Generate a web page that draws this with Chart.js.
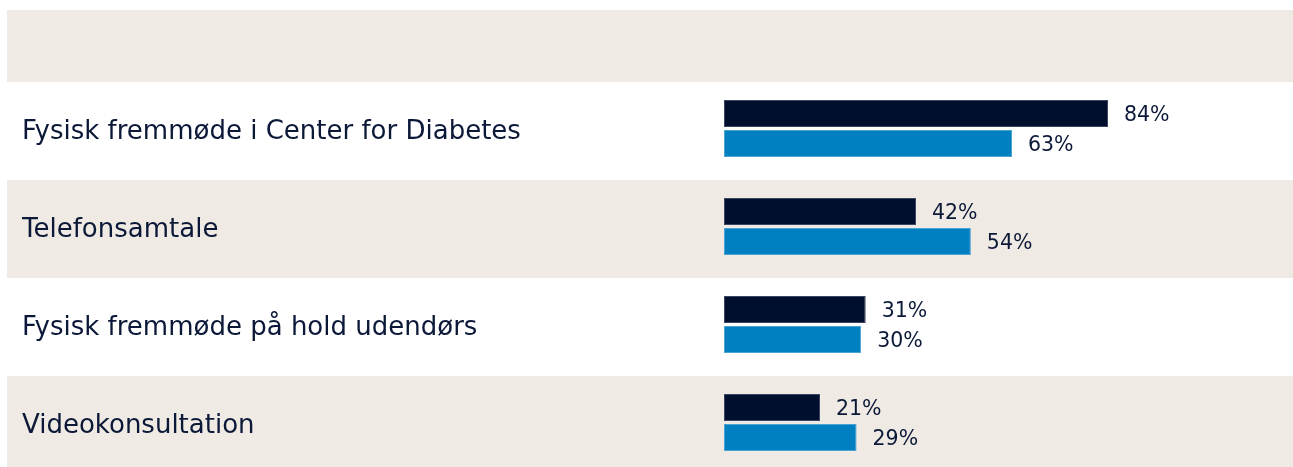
<!DOCTYPE html>
<html>
<head>
<meta charset="utf-8">
<script src="https://cdn.jsdelivr.net/npm/chart.js@4/dist/chart.umd.min.js"></script>
<style>
html,body{margin:0;padding:0;background:#ffffff;overflow:hidden;}
#wrap{position:relative;width:1293px;height:487px;}
</style>
</head>
<body>
<div id="wrap"><canvas id="c" width="1293" height="487"></canvas></div>
<script>
const categories = [
  "Fysisk fremmøde i Center for Diabetes",
  "Telefonsamtale",
  "Fysisk fremmøde på hold udendørs",
  "Videokonsultation"
];
const seriesA = [84, 42, 31, 21];
const seriesB = [63, 54, 30, 29];
const seriesNames = ["Serie 1", "Serie 2"];

const BEIGE = "#EFEAE3";
const TEXT = "#0B1838";
const LABEL_FONT = "DejaVu Sans";

const bandsPlugin = {
  id: "bands",
  beforeDraw(chart) {
    const ctx = chart.ctx;
    const y = chart.scales.y;
    const step = y.getPixelForValue(1) - y.getPixelForValue(0);
    const shift = 2.5;
    ctx.save();
    ctx.fillStyle = BEIGE;
    const firstTop = y.getPixelForValue(0) - step / 2 + shift;
    ctx.fillRect(7, 10, chart.width - 7, firstTop - 10);
    categories.forEach((c, i) => {
      if (i % 2 === 1) {
        const top = y.getPixelForValue(i) - step / 2 + shift;
        ctx.fillRect(7, top, chart.width - 7, step);
      }
    });
    ctx.restore();
  }
};

const valueLabels = {
  id: "valueLabels",
  afterDatasetsDraw(chart) {
    const ctx = chart.ctx;
    ctx.save();
    ctx.font = "20.5px '" + LABEL_FONT + "'";
    ctx.fillStyle = TEXT;
    ctx.textAlign = "left";
    ctx.textBaseline = "middle";
    chart.data.datasets.forEach((ds, di) => {
      chart.getDatasetMeta(di).data.forEach((bar, i) => {
        ctx.fillText(ds.data[i] + "%", bar.x + 16, bar.y + 2);
      });
    });
    ctx.restore();
  }
};

new Chart(document.getElementById("c"), {
  type: "bar",
  data: {
    labels: categories,
    datasets: [
      { label: seriesNames[0], data: seriesA, backgroundColor: "#000F2D", borderColor: "#3A4560", borderWidth: 1, borderSkipped: false, barPercentage: 0.9, categoryPercentage: 60/98 },
      { label: seriesNames[1], data: seriesB, backgroundColor: "#0080C0", borderColor: "#4AA3D3", borderWidth: 1, borderSkipped: false, barPercentage: 0.9, categoryPercentage: 60/98 }
    ]
  },
  options: {
    indexAxis: "y",
    responsive: false,
    animation: false,
    layout: { padding: { left: 22, right: 1293 - (724 + 457.14), top: 79.5, bottom: 0 } },
    plugins: { legend: { display: false }, tooltip: { enabled: false } },
    scales: {
      x: { min: 0, max: 100, display: false },
      y: {
        grid: { display: false },
        border: { display: false },
        ticks: { crossAlign: "far", color: TEXT, font: { family: LABEL_FONT, size: 26 }, padding: 0, labelOffset: 4 },
        afterFit(scale) { scale.width = 702; }
      }
    }
  },
  plugins: [bandsPlugin, valueLabels]
});
</script>
</body>
</html>
